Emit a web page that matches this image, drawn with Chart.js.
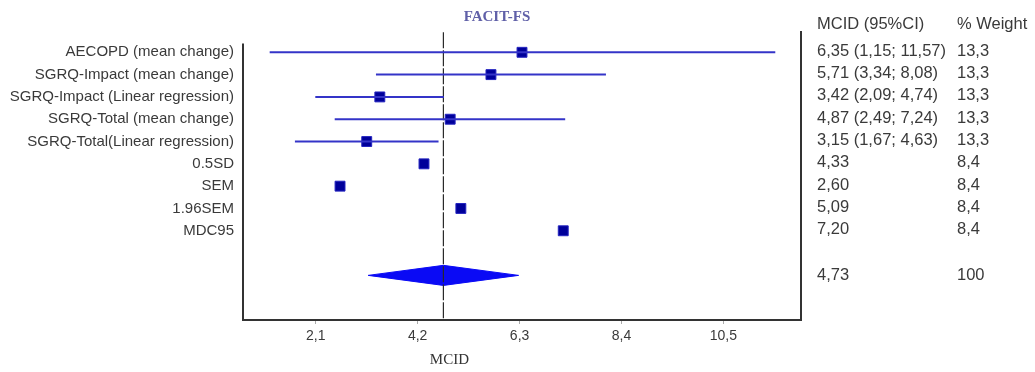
<!DOCTYPE html>
<html lang="en">
<head>
  <meta charset="UTF-8" />
  <title>FACIT-FS – MCID forest plot</title>
  <script src="https://cdn.jsdelivr.net/npm/chart.js"></script>
  <style>
    body {
      margin: 0;
      background: #fff;
    }
    #wrap {
      width: 1035px;
      height: 372px;
      position: relative;
    }
  </style>
</head>
<body>
  <div id="wrap"><canvas id="forest"></canvas></div>

  <script>
    const rowLabels = [
      'AECOPD (mean change)', 'SGRQ-Impact (mean change)', 'SGRQ-Impact (Linear regression)',
      'SGRQ-Total (mean change)', 'SGRQ-Total(Linear regression)',
      '0.5SD', 'SEM', '1.96SEM', 'MDC95'
    ];
    const mcid   = [6.35, 5.71, 3.42, 4.87, 3.15, 4.33, 2.60, 5.09, 7.20];
    const ciLow  = [1.15, 3.34, 2.09, 2.49, 1.67, null, null, null, null];
    const ciHigh = [11.57, 8.08, 4.74, 7.24, 4.63, null, null, null, null];
    const weights = ['13,3', '13,3', '13,3', '13,3', '13,3', '8,4', '8,4', '8,4', '8,4'];

    const pooled = 4.73;
    const pooledWeight = '100';
    const diamondLow = 3.18;
    const diamondHigh = 6.28;
    const pooledRow = 10;

    const xTicks = [2.1, 4.2, 6.3, 8.4, 10.5];

    const fmt = v => v.toFixed(2).replace('.', ',');

    const datasets = [];

    // confidence interval whiskers
    mcid.forEach((m, i) => {
      if (ciLow[i] == null) return;
      datasets.push({
        data: [{ x: ciLow[i], y: i }, { x: ciHigh[i], y: i }],
        showLine: true,
        borderColor: '#3434c8',
        borderWidth: 2,
        pointRadius: 0
      });
    });

    // pooled estimate reference line
    datasets.push({
      data: [{ x: pooled, y: -0.9 }, { x: pooled, y: 12 }],
      showLine: true,
      borderColor: '#2a2a2a',
      borderWidth: 1.2,
      borderDash: [16, 2],
      pointRadius: 0
    });

    // pooled diamond
    datasets.push({
      data: [
        { x: diamondLow, y: pooledRow },
        { x: pooled, y: pooledRow - 0.45 },
        { x: diamondHigh, y: pooledRow },
        { x: pooled, y: pooledRow + 0.45 },
        { x: diamondLow, y: pooledRow }
      ],
      showLine: true,
      fill: 'shape',
      backgroundColor: '#0a0af5',
      borderColor: '#0a0af5',
      borderWidth: 1,
      tension: 0,
      pointRadius: 0
    });

    // point estimates
    datasets.push({
      data: mcid.map((m, i) => ({ x: m, y: i })),
      pointStyle: 'rect',
      pointRadius: 7,
      pointHoverRadius: 7,
      backgroundColor: '#00009a',
      borderColor: '#2424c0',
      borderWidth: 1
    });

    const frame = {
      id: 'frame',
      beforeDatasetsDraw(chart) {
        const { ctx, chartArea: a, scales: { y } } = chart;
        ctx.save();
        ctx.strokeStyle = '#333';
        ctx.lineWidth = 2;
        ctx.beginPath();
        ctx.moveTo(a.left, y.getPixelForValue(-0.4));
        ctx.lineTo(a.left, a.bottom);
        ctx.moveTo(a.right, a.top + 1);
        ctx.lineTo(a.right, a.bottom);
        ctx.stroke();
        ctx.restore();
      },
      afterDraw(chart) {
        const { ctx, chartArea: a, scales: { x, y } } = chart;
        ctx.save();
        ctx.textBaseline = 'middle';

        ctx.font = 'bold 15px "Liberation Serif", "Times New Roman", serif';
        ctx.fillStyle = '#6060a8';
        ctx.textAlign = 'center';
        ctx.fillText('FACIT-FS', 497, 17);

        ctx.fillStyle = '#333';
        ctx.font = '15px "Liberation Serif", "Times New Roman", serif';
        ctx.fillText('MCID', x.getPixelForValue(pooled) + 6, 360);

        ctx.textAlign = 'left';
        ctx.fillStyle = '#3a3a3a';
        ctx.font = '16.5px "Liberation Sans", Arial, sans-serif';
        const c1 = a.right + 16, c2 = a.right + 156;
        ctx.fillText('MCID (95%CI)', c1, y.getPixelForValue(-1.25));
        ctx.fillText('% Weight', c2, y.getPixelForValue(-1.25));
        mcid.forEach((m, i) => {
          const py = y.getPixelForValue(i) - 1;
          const txt = ciLow[i] != null ? `${fmt(m)} (${fmt(ciLow[i])}; ${fmt(ciHigh[i])})` : fmt(m);
          ctx.fillText(txt, c1, py);
          ctx.fillText(weights[i], c2, py);
        });
        const pp = y.getPixelForValue(pooledRow);
        ctx.fillText(fmt(pooled), c1, pp);
        ctx.fillText(pooledWeight, c2, pp);
        ctx.restore();
      }
    };

    new Chart(document.getElementById('forest'), {
      type: 'scatter',
      data: { datasets },
      plugins: [frame],
      options: {
        responsive: true,
        maintainAspectRatio: false,
        animation: false,
        layout: { padding: { top: 30, right: 234, left: 0, bottom: 0 } },
        plugins: {
          legend: { display: false },
          tooltip: { enabled: false },
          title: { display: false }
        },
        scales: {
          x: {
            type: 'linear',
            min: 0.6,
            max: 12.1,
            afterBuildTicks: s => { s.ticks = xTicks.map(v => ({ value: v })); },
            afterFit: s => { s.height = 52; },
            grid: { drawOnChartArea: false, tickLength: 4, color: '#aaa' },
            border: { display: true, color: '#333', width: 2 },
            ticks: {
              padding: 4,
              color: '#3a3a3a',
              font: { family: '"Liberation Sans", Arial, sans-serif', size: 14 },
              callback: v => v.toFixed(1).replace('.', ',')
            }
          },
          y: {
            type: 'linear',
            reverse: true,
            min: -1,
            max: 12,
            afterBuildTicks: s => { s.ticks = rowLabels.map((_, i) => ({ value: i })); },
            afterFit: s => { s.width = 243; },
            grid: { display: false, drawTicks: false },
            border: { display: false },
            ticks: {
              padding: 9,
              color: '#3a3a3a',
              font: { family: '"Liberation Sans", Arial, sans-serif', size: 15 },
              callback: v => rowLabels[v]
            }
          }
        }
      }
    });
  </script>
</body>
</html>
